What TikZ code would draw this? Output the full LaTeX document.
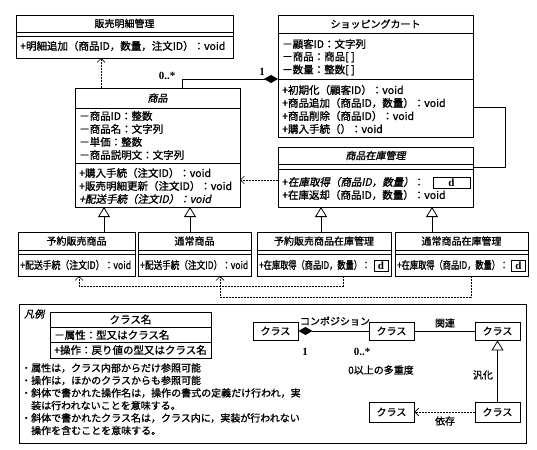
\documentclass[tikz,border=0pt]{standalone}
\usepackage{fontspec}
\usepackage{graphicx}
\setmainfont{Noto Sans CJK JP}[FakeBold=1.2]
\newfontfamily\jpit{Noto Sans CJK JP}[FakeSlant=0.2,FakeBold=1.2]
\newfontfamily\serifd{Liberation Serif}
\usetikzlibrary{arrows.meta}
\newcommand{\sq}[2]{\resizebox{#1}{\height}{#2}}
\newcommand{\sepline}[2]{\draw[sepl] ([yshift=-#2pt]#1.north west) -- ([yshift=-#2pt]#1.north east);}
\tikzset{
  box/.style={draw, line width=0.9pt, rectangle, inner sep=0pt, outer sep=0pt, anchor=north west},
  sepl/.style={line width=0.8pt},
  txt/.style={inner sep=0pt, anchor=west, font=\fontsize{10.5}{12}\selectfont},
  ttl/.style={inner sep=0pt, font=\fontsize{10}{12}\selectfont},
  lg/.style={inner sep=0pt, anchor=west, font=\fontsize{10}{12}\selectfont},
  lbl/.style={inner sep=0pt, font=\fontsize{10}{12}\selectfont},
  num/.style={inner sep=0pt, font=\serifd\bfseries\fontsize{11}{12}\selectfont},
  dbox/.style={draw, line width=0.9pt, inner sep=0pt, font=\serifd\bfseries\fontsize{11}{11}\selectfont},
  cls/.style={draw, line width=0.9pt, inner sep=0pt, minimum width=45pt, minimum height=18pt, font=\fontsize{10}{12}\selectfont},
  dep/.style={dash pattern=on 2pt off 1pt, line width=0.6pt, -{Straight Barb[length=4pt,width=8pt]}},
  gen/.style={line width=0.8pt, -{Triangle[open,length=10pt,width=12pt,line width=0.8pt]}},
  comp/.style={line width=0.8pt, {Diamond[length=14pt,width=8pt]}-},
  assoc/.style={line width=0.8pt},
}
\begin{document}
\begin{tikzpicture}[x=1pt,y=-1pt]
\path[use as bounding box, fill=white] (0,0) rectangle (537,449);

% ---- class boxes ----
\node[box,minimum width=217pt,minimum height=43pt] (A) at (16,15) {};
\node[box,minimum width=195pt,minimum height=122pt] (C) at (278,15) {};
\node[box,minimum width=165pt,minimum height=119pt] (B) at (75,88) {};
\node[box,minimum width=195pt,minimum height=60pt] (D) at (278,147) {};
\node[box,minimum width=117pt,minimum height=44pt] (E1) at (18,232) {};
\node[box,minimum width=113pt,minimum height=44pt] (E2) at (138,232) {};
\node[box,minimum width=134pt,minimum height=44pt] (E3) at (257,232) {};
\node[box,minimum width=133pt,minimum height=44pt] (E4) at (395,232) {};

\sepline{A}{17}\sepline{A}{21}
\sepline{C}{18}\sepline{C}{64}
\sepline{B}{20}\sepline{B}{75}
\sepline{D}{17}\sepline{D}{22}
\sepline{E1}{18}\sepline{E1}{22}
\sepline{E2}{18}\sepline{E2}{22}
\sepline{E3}{18}\sepline{E3}{22}
\sepline{E4}{18}\sepline{E4}{22}

% ---- texts ----
\node[ttl] (tA) at (124.5,23.5) {販売明細管理};
\node[txt] (a1) at (20,46) {+明細追加（商品ID，数量，注文ID）：void};

\node[ttl] (tC) at (375.5,24) {ショッピングカート};
\node[txt] (c1) at (282,44) {－顧客ID：文字列};
\node[txt] (c2) at (282,57) {－商品：商品[ ]};
\node[txt] (c3) at (282,70) {－数量：整数[ ]};
\node[txt] (c4) at (282,90) {+初期化（顧客ID）：void};
\node[txt] (c5) at (282,103) {+商品追加（商品ID，数量）：void};
\node[txt] (c6) at (282,116) {+商品削除（商品ID）：void};
\node[txt] (c7) at (282,129) {+購入手続（）：void};

\node[ttl,font=\jpit\fontsize{10}{12}\selectfont] (tB) at (157.5,98) {商品};
\node[txt] (b1) at (79,116) {－商品ID：整数};
\node[txt] (b2) at (79,129) {－商品名：文字列};
\node[txt] (b3) at (79,142) {－単価：整数};
\node[txt] (b4) at (79,155) {－商品説明文：文字列};
\node[txt] (b5) at (79,173) {+購入手続（注文ID）：void};
\node[txt] (b6) at (79,186) {+販売明細更新（注文ID）：void};
\node[txt,font=\jpit\fontsize{10.5}{12}\selectfont] (b7) at (79,199) {+配送手続（注文ID）：void};

\node[ttl,font=\jpit\fontsize{10}{12}\selectfont] (tD) at (375.5,155.5) {商品在庫管理};
\node[txt] (d1) at (282,182) {+{\jpit 在庫取得（商品ID，数量）}：};
\node[dbox,minimum width=37pt,minimum height=11pt] (dd1) at (451.5,182.5) {d};
\node[txt] (d2) at (282,195) {+在庫返却（商品ID，数量）：void};

\node[ttl] (tE1) at (76.5,241) {予約販売商品};
\node[txt] (e1) at (20,265) {\sq{111pt}{+配送手続（注文ID）：void}};
\node[ttl] (tE2) at (194.5,241) {通常商品};
\node[txt] (e2) at (140,265) {\sq{108pt}{+配送手続（注文ID）：void}};
\node[ttl] (tE3) at (324,241) {予約販売商品在庫管理};
\node[txt] (e3) at (259,265) {\sq{111pt}{+在庫取得（商品ID，数量）：}};
\node[dbox,minimum width=14pt,minimum height=11pt] (dd3) at (381,265.5) {d};
\node[ttl] (tE4) at (461.5,241) {通常商品在庫管理};
\node[txt] (e4) at (397,265) {\sq{111pt}{+在庫取得（商品ID，数量）：}};
\node[dbox,minimum width=14pt,minimum height=11pt] (dd4) at (518.5,265.5) {d};

% ---- connectors ----
\coordinate (xA) at (101,0);
\draw[dep] (B.north -| xA) -- (A.south -| xA);

\coordinate (cy) at (0,79);
\coordinate (cx) at (182,0);
\draw[comp] (C.west |- cy) -| (B.north -| cx);
\node[num] (m1) at (262,72) {1};
\node[num] (m2) at (167,76) {0..*};

\coordinate (r1) at (505,107);
\coordinate (r2) at (505,167);
\draw[assoc] (C.east |- r1) -- (r1) -- (r2) -- (D.east |- r2);

\coordinate (dy) at (0,180);
\draw[dep] (D.west |- dy) -- (B.east |- dy);

\coordinate (g1) at (104,0);
\coordinate (g2) at (190,0);
\coordinate (g3) at (321,0);
\coordinate (g4) at (432,0);
\draw[gen] (E1.north -| g1) -- (B.south -| g1);
\draw[gen] (E2.north -| g2) -- (B.south -| g2);
\draw[gen] (E3.north -| g3) -- (D.south -| g3);
\draw[gen] (E4.north -| g4) -- (D.south -| g4);

\coordinate (k1) at (343,286);
\coordinate (k2) at (79,286);
\coordinate (k3) at (471,297);
\coordinate (k4) at (220,297);
\draw[dep] (E3.south -| k1) -- (k1) -- (k2) -- (E1.south -| k2);
\draw[dep] (E4.south -| k3) -- (k3) -- (k4) -- (E2.south -| k4);

% ---- legend ----
\node[box,line width=0.8pt,minimum width=507pt,minimum height=139pt] (LG) at (19,304) {};
\node[lg,font=\jpit\fontsize{10}{12}\selectfont] (lgt) at (24,314) {凡例};
\node[box,minimum width=161pt,minimum height=46pt] (L0) at (50,312) {};
\sepline{L0}{15}\sepline{L0}{30}
\node[lbl,font=\fontsize{10.5}{12}\selectfont] (l0a) at (130.5,319.5) {クラス名};
\node[lg,font=\fontsize{10.5}{12}\selectfont] (l0b) at (54,335) {－属性：型又はクラス名};
\node[lg,font=\fontsize{10.5}{12}\selectfont] (l0c) at (54,350) {+操作：戻り値の型又はクラス名};

\node[lg] (n1) at (21,368) {・属性は，クラス内部からだけ参照可能};
\node[lg] (n2) at (21,380.5) {・操作は，ほかのクラスからも参照可能};
\node[lg] (n3) at (21,393) {・斜体で書かれた操作名は，操作の書式の定義だけ行われ，実};
\node[lg] (n4) at (31,405.5) {装は行われないことを意味する。};
\node[lg] (n5) at (21,418) {・斜体で書かれたクラス名は，クラス内に，実装が行われない};
\node[lg] (n6) at (31,430.5) {操作を含むことを意味する。};

\node[cls] (L1) at (275.5,331) {クラス};
\node[cls] (L2) at (391.5,331) {クラス};
\node[cls] (L3) at (497.5,331) {クラス};
\node[cls,minimum height=20pt] (L4) at (391.5,412) {クラス};
\node[cls,minimum height=20pt] (L5) at (497.5,412) {クラス};

\draw[comp] (L1.east) -- (L2.west);
\node[lbl] (q1) at (335,321) {コンポジション};
\node[num] (q2) at (305,352) {1};
\node[num] (q3) at (362,352) {0..*};
\node[lbl] (q4) at (381,370) {0以上の多重度};

\draw[assoc] (L2.east) -- (L3.west);
\node[lbl] (q5) at (445,323) {関連};

\draw[gen] (L5.north) -- (L3.south);
\node[lbl] (q6) at (483,375) {汎化};

\draw[dep] (L5.west) -- (L4.east);
\node[lbl] (q7) at (445,421) {依存};
\end{tikzpicture}
\end{document}
